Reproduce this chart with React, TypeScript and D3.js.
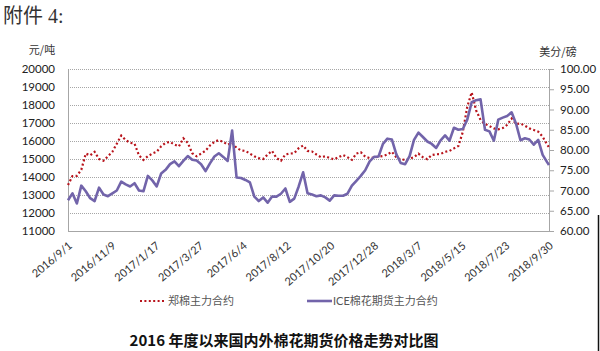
import * as d3 from 'd3';

// weekly samples from 2016/9/1, last point is 2018/9/30
const zhengValues = [
  13550, 14050, 14060, 14400, 15300, 15200, 15400, 15000, 14900, 15150,
  15400, 15850, 16300, 16050, 15900, 15850, 15200, 14950, 15150, 15300,
  15400, 15700, 15900, 15950, 15800, 15700, 16150, 15900, 15320, 15150,
  15300, 15460, 15750, 15950, 16050, 15950, 15800, 15900, 15620, 15480,
  15450, 15300, 15150, 15050, 15000, 15250, 15450, 15050, 14900, 15250,
  15300, 15320, 15600, 15750, 15450, 15420, 15250, 15100, 15150, 15050,
  14980, 15100, 15220, 15100, 14950, 15300, 15380, 15130, 15050, 15080,
  15130, 15160, 15250, 15400, 15100, 14950, 14970, 15010, 15100, 15300,
  15100, 14990, 15220, 15260, 15280, 15400, 15450, 15590, 15720, 16500,
  17900, 18700, 17700, 17170, 16950, 16830, 16700, 16650, 16720, 16900,
  17250, 16950, 16970, 16850, 16700, 16610, 16520, 16240, 15800, 15650,
];
const iceValues = [
  67.6, 69.3, 66.8, 71.2, 69.8, 68.1, 67.4, 70.7, 69.0, 68.6,
  69.3, 70.0, 72.2, 71.5, 71.0, 71.8, 70.0, 69.8, 73.6, 72.5,
  71.0, 74.2, 75.1, 76.5, 77.2, 76.0, 77.3, 78.5, 77.6, 77.4,
  76.5, 74.8, 76.7, 78.4, 79.2, 78.3, 77.3, 84.8, 73.2, 73.1,
  72.6, 72.0, 68.5, 67.4, 68.3, 67.0, 68.5, 68.5, 69.2, 70.5,
  67.2, 68.0, 71.0, 74.5, 69.3, 69.0, 68.6, 68.8, 68.3, 67.5,
  68.8, 68.7, 68.7, 69.2, 71.2, 72.4, 73.6, 75.0, 77.2, 78.3,
  78.4, 81.5, 82.8, 82.6, 79.0, 76.8, 76.5, 78.5, 82.5, 84.3,
  83.2, 82.1, 81.5, 80.5, 82.4, 83.6, 82.3, 85.5, 85.0, 85.2,
  87.5, 91.8, 92.3, 92.5, 85.0, 84.6, 82.3, 87.5, 88.0, 88.4,
  89.3, 86.5, 82.4, 82.9, 82.6, 81.3, 82.5, 78.8, 77.0, 76.3,
];
const leftTicks = [11000, 12000, 13000, 14000, 15000, 16000, 17000, 18000, 19000, 20000];
const rightTicks = [60, 65, 70, 75, 80, 85, 90, 95, 100];
const xTickLabels = [
  '2016/9/1', '2016/11/9', '2017/1/17', '2017/3/27', '2017/6/4', '2017/8/12',
  '2017/10/20', '2017/12/28', '2018/3/7', '2018/5/15', '2018/7/23', '2018/9/30',
];
const seriesNames = ['郑棉主力合约', 'ICE棉花期货主力合约'];
const title = '2016 年度以来国内外棉花期货价格走势对比图';

const parse = d3.timeParse('%Y/%m/%d');
const start = parse('2016/9/1')!;
const end = parse('2018/9/30')!;
const dates = zhengValues.map((_, i) => {
  const d = d3.timeDay.offset(start, 7 * i);
  return d > end ? end : d;
});

const RED = '#b8141c';
const PURPLE = '#7264aa';
const NUM = 'Lato, "Noto Sans CJK SC", sans-serif';
const CJK = '"Noto Sans CJK SC", sans-serif';

export default function App() {
  const m = { left: 68, right: 549, top: 69, bottom: 231 };
  const x = d3.scaleTime().domain([start, end]).range([m.left, m.right]);
  const yL = d3.scaleLinear().domain([11000, 20000]).range([m.bottom, m.top]);
  const yR = d3.scaleLinear().domain([60, 100]).range([m.bottom, m.top]);

  const zhengLine = d3.line<number>().x((_, i) => x(dates[i])).y((v) => yL(v));
  const iceLine = d3.line<number>().x((_, i) => x(dates[i])).y((v) => yR(v));

  const tickDates = xTickLabels.map((s) => parse(s)!);

  return (
    <svg width={600} height={351} style={{ position: 'absolute', left: 0, top: 0, background: '#fff' }}>
      <text x={3} y={23} fontSize={20} fontFamily='"Liberation Serif", "Noto Sans CJK SC", serif' fill="#333">附件 4:</text>
      <text x={42} y={54} fontSize={11} fontFamily={CJK} fill="#333" textAnchor="middle">元/吨</text>
      <text x={558} y={56} fontSize={11} fontFamily={CJK} fill="#333" textAnchor="middle">美分/磅</text>

      {/* grid */}
      {leftTicks.filter((t) => t > 11000).map((t) => (
        <line key={t} x1={m.left} x2={m.right} y1={yL(t) + 0.5} y2={yL(t) + 0.5}
          stroke="#a6a6a6" strokeWidth={1} strokeDasharray="1 1" />
      ))}
      <line x1={m.left + 0.5} x2={m.left + 0.5} y1={m.top} y2={m.bottom} stroke="#a6a6a6" />
      <line x1={m.right + 0.5} x2={m.right + 0.5} y1={m.top} y2={m.bottom + 0.5} stroke="#a6a6a6" />
      <line x1={m.left} x2={m.right + 0.5} y1={m.bottom + 0.5} y2={m.bottom + 0.5} stroke="#a6a6a6" />

      {leftTicks.map((t) => (
        <text key={t} x={55} y={yL(t) + 4} fontSize={11.5} fontFamily={NUM} fill="#222" textAnchor="end">{t}</text>
      ))}
      {rightTicks.map((t) => (
        <g key={t}>
          <line x1={m.right} x2={m.right + 5} y1={yR(t) + 0.5} y2={yR(t) + 0.5} stroke="#a6a6a6" />
          <text x={560} y={yR(t) + 4} fontSize={11.5} fontFamily={NUM} fill="#222">{t.toFixed(2)}</text>
        </g>
      ))}
      {tickDates.map((d, i) => (
        <text key={i} transform={`translate(${x(d) + 5},${m.bottom + 16}) rotate(-40)`}
          fontSize={11} fontFamily={NUM} fill="#333" textAnchor="end">{xTickLabels[i]}</text>
      ))}

      <path d={zhengLine(zhengValues) ?? ''} fill="none" stroke={RED} strokeWidth={2.2} strokeDasharray="2 2.4" />
      <path d={iceLine(iceValues) ?? ''} fill="none" stroke={PURPLE} strokeWidth={2.6} strokeLinejoin="round" />

      {/* legend */}
      <line x1={140} x2={165} y1={301} y2={301} stroke={RED} strokeWidth={2.2} strokeDasharray="2 2.4" />
      <text x={168} y={305} fontSize={11} fontFamily={CJK} fill="#555">{seriesNames[0]}</text>
      <line x1={307} x2={332} y1={301} y2={301} stroke={PURPLE} strokeWidth={2.6} />
      <text x={333} y={305} fontSize={11} fontFamily={NUM} fill="#555">{seriesNames[1]}</text>

      <text x={284} y={346} fontSize={15} fontWeight="bold" fontFamily={CJK} fill="#111" textAnchor="middle">{title}</text>
      <line x1={598.5} x2={598.5} y1={215} y2={351} stroke="#111" strokeWidth={1.5} />
    </svg>
  );
}
